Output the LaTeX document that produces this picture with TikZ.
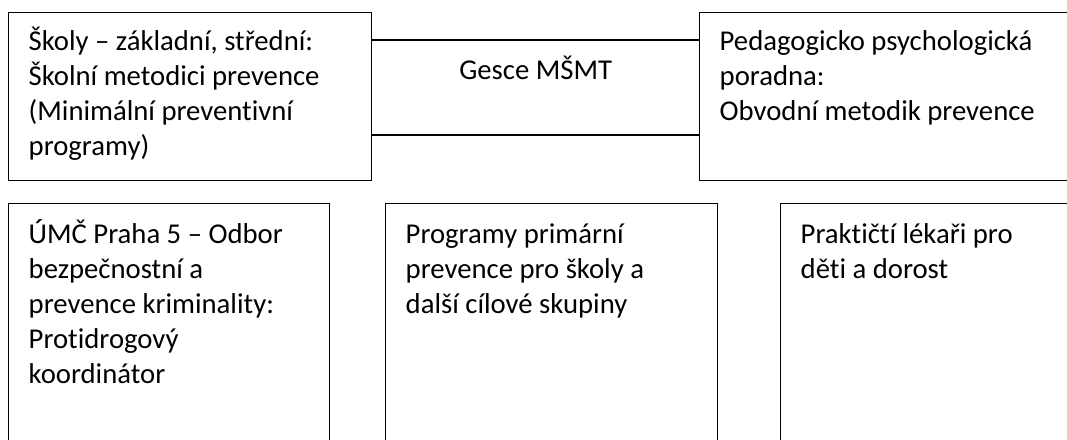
\documentclass[tikz,border=0pt]{standalone}
\usepackage{fontspec}
\setmainfont{Carlito}[Ligatures=NoCommon]
\usetikzlibrary{positioning}

\begin{document}
\begin{tikzpicture}[x=1pt,y=-1pt,line width=1.4pt,
    unit/.style={draw,anchor=north west,align=flush left,inner xsep=20pt,inner ysep=13.5pt,
      font=\fontsize{28.7}{35}\selectfont,execute at begin node={\spaceskip=0pt\xspaceskip=0pt}},
    toprow/.style={unit,text depth=116.5pt},
    bottomrow/.style={unit,inner ysep=15.5pt,text depth=300pt},
    caption/.style={font=\fontsize{28.7}{35}\selectfont,anchor=base}]
        \useasboundingbox (0,0) rectangle (1067,439);
        \clip (0,0) rectangle (1067,439);
        % top row
        \node[toprow,text width=323pt] at (8,12) (skoly) {\strut Školy – základní, střední:\\Školní metodici prevence\\(Minimální preventivní\\programy)};
        \node[toprow,text width=400pt] at (699,12) (poradna) {\strut Pedagogicko psychologická\\poradna:\\Obvodní metodik prevence};
        \draw ([yshift=-28pt]skoly.north east) -- node[caption,yshift=-39pt]{Gesce MŠMT} ([yshift=-28pt]poradna.north west);
        \draw ([yshift=-123pt]skoly.north east) -- ([yshift=-123pt]poradna.north west);
        % bottom row
        \node[bottomrow,text width=281pt] at (8,203) (umc) {\strut ÚMČ Praha 5 – Odbor\\bezpečnostní a\\prevence kriminality:\\Protidrogový\\koordinátor};
        \node[bottomrow,text width=292pt] at (385,203) (programy) {\strut Programy primární\\prevence pro školy a\\další cílové skupiny};
        \node[bottomrow,text width=400pt] at (780,203) (lekari) {\strut Praktičtí lékaři pro\\děti a dorost};
\end{tikzpicture}
\end{document}
